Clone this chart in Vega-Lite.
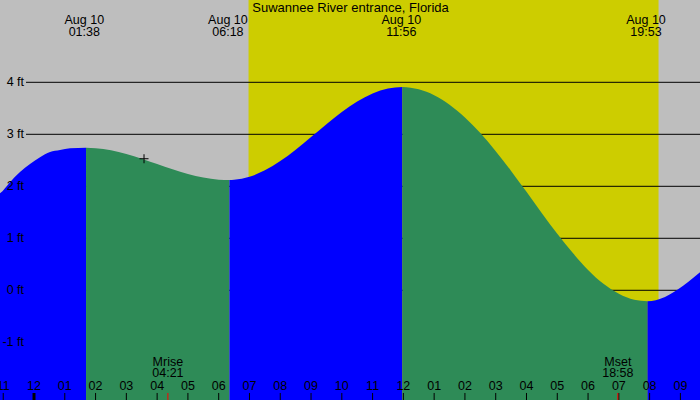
{
  "$schema": "https://vega.github.io/schema/vega-lite/v6.json",
  "width": 700,
  "height": 400,
  "autosize": "none",
  "padding": 0,
  "background": "#bebebe",
  "config": {"view": {"stroke": null}, "font": "Liberation Sans"},
  "datasets": {
    "sun": [{"rise": 6.97, "set": 20.29}],
    "levels": [
      {"ft": -1, "label": "-1 ft"},
      {"ft": 0, "label": "0 ft"},
      {"ft": 1, "label": "1 ft"},
      {"ft": 2, "label": "2 ft"},
      {"ft": 3, "label": "3 ft"},
      {"ft": 4, "label": "4 ft"}
    ],
    "hours": [
      {"h": -1, "label": "11"}, {"h": 0, "label": "12"}, {"h": 1, "label": "01"},
      {"h": 2, "label": "02"}, {"h": 3, "label": "03"}, {"h": 4, "label": "04"},
      {"h": 5, "label": "05"}, {"h": 6, "label": "06"}, {"h": 7, "label": "07"},
      {"h": 8, "label": "08"}, {"h": 9, "label": "09"}, {"h": 10, "label": "10"},
      {"h": 11, "label": "11"}, {"h": 12, "label": "12"}, {"h": 13, "label": "01"},
      {"h": 14, "label": "02"}, {"h": 15, "label": "03"}, {"h": 16, "label": "04"},
      {"h": 17, "label": "05"}, {"h": 18, "label": "06"}, {"h": 19, "label": "07"},
      {"h": 20, "label": "08"}, {"h": 21, "label": "09"}
    ],
    "tide": [
      {"h": -1.2, "ft": 1.83, "phase": "rising", "seg": "a"},
      {"h": -1.105, "ft": 1.865, "phase": "rising", "seg": "a"},
      {"h": -0.78, "ft": 2.08, "phase": "rising", "seg": "a"},
      {"h": -0.455, "ft": 2.275, "phase": "rising", "seg": "a"},
      {"h": -0.13, "ft": 2.43, "phase": "rising", "seg": "a"},
      {"h": 0.195, "ft": 2.56, "phase": "rising", "seg": "a"},
      {"h": 0.52, "ft": 2.66, "phase": "rising", "seg": "a"},
      {"h": 0.845, "ft": 2.70, "phase": "rising", "seg": "a"},
      {"h": 1.17, "ft": 2.73, "phase": "rising", "seg": "a"},
      {"h": 1.69, "ft": 2.74, "phase": "rising", "seg": "a"},
      {"h": 1.69, "ft": 2.74, "phase": "falling", "seg": "b"},
      {"h": 2.0, "ft": 2.732, "phase": "falling", "seg": "b"},
      {"h": 2.5, "ft": 2.692, "phase": "falling", "seg": "b"},
      {"h": 3.0, "ft": 2.622, "phase": "falling", "seg": "b"},
      {"h": 3.5, "ft": 2.531, "phase": "falling", "seg": "b"},
      {"h": 4.0, "ft": 2.428, "phase": "falling", "seg": "b"},
      {"h": 4.5, "ft": 2.326, "phase": "falling", "seg": "b"},
      {"h": 5.0, "ft": 2.235, "phase": "falling", "seg": "b"},
      {"h": 5.5, "ft": 2.167, "phase": "falling", "seg": "b"},
      {"h": 6.0, "ft": 2.128, "phase": "falling", "seg": "b"},
      {"h": 6.35, "ft": 2.12, "phase": "falling", "seg": "b"},
      {"h": 6.35, "ft": 2.12, "phase": "rising", "seg": "c"},
      {"h": 6.5, "ft": 2.125, "phase": "rising", "seg": "c"},
      {"h": 7.0, "ft": 2.184, "phase": "rising", "seg": "c"},
      {"h": 7.5, "ft": 2.308, "phase": "rising", "seg": "c"},
      {"h": 8.0, "ft": 2.486, "phase": "rising", "seg": "c"},
      {"h": 8.5, "ft": 2.705, "phase": "rising", "seg": "c"},
      {"h": 9.0, "ft": 2.947, "phase": "rising", "seg": "c"},
      {"h": 9.5, "ft": 3.195, "phase": "rising", "seg": "c"},
      {"h": 10.0, "ft": 3.43, "phase": "rising", "seg": "c"},
      {"h": 10.5, "ft": 3.632, "phase": "rising", "seg": "c"},
      {"h": 11.0, "ft": 3.785, "phase": "rising", "seg": "c"},
      {"h": 11.5, "ft": 3.88, "phase": "rising", "seg": "c"},
      {"h": 11.97, "ft": 3.91, "phase": "rising", "seg": "c"},
      {"h": 11.97, "ft": 3.91, "phase": "falling", "seg": "d"},
      {"h": 12.5, "ft": 3.866, "phase": "falling", "seg": "d"},
      {"h": 13.0, "ft": 3.752, "phase": "falling", "seg": "d"},
      {"h": 13.5, "ft": 3.57, "phase": "falling", "seg": "d"},
      {"h": 14.0, "ft": 3.325, "phase": "falling", "seg": "d"},
      {"h": 14.5, "ft": 3.025, "phase": "falling", "seg": "d"},
      {"h": 15.0, "ft": 2.676, "phase": "falling", "seg": "d"},
      {"h": 15.5, "ft": 2.296, "phase": "falling", "seg": "d"},
      {"h": 16.0, "ft": 1.893, "phase": "falling", "seg": "d"},
      {"h": 16.5, "ft": 1.484, "phase": "falling", "seg": "d"},
      {"h": 17.0, "ft": 1.087, "phase": "falling", "seg": "d"},
      {"h": 17.5, "ft": 0.72, "phase": "falling", "seg": "d"},
      {"h": 18.0, "ft": 0.392, "phase": "falling", "seg": "d"},
      {"h": 18.5, "ft": 0.124, "phase": "falling", "seg": "d"},
      {"h": 19.0, "ft": -0.067, "phase": "falling", "seg": "d"},
      {"h": 19.5, "ft": -0.181, "phase": "falling", "seg": "d"},
      {"h": 19.93, "ft": -0.21, "phase": "falling", "seg": "d"},
      {"h": 19.93, "ft": -0.21, "phase": "rising", "seg": "e"},
      {"h": 20.2, "ft": -0.19, "phase": "rising", "seg": "e"},
      {"h": 20.5, "ft": -0.13, "phase": "rising", "seg": "e"},
      {"h": 20.8, "ft": -0.03, "phase": "rising", "seg": "e"},
      {"h": 21.1, "ft": 0.09, "phase": "rising", "seg": "e"},
      {"h": 21.4, "ft": 0.23, "phase": "rising", "seg": "e"},
      {"h": 21.7, "ft": 0.38, "phase": "rising", "seg": "e"}
    ],
    "extremes": [
      {"h": 1.633, "label": "Aug 10\n01:38"},
      {"h": 6.3, "label": "Aug 10\n06:18"},
      {"h": 11.933, "label": "Aug 10\n11:56"},
      {"h": 19.883, "label": "Aug 10\n19:53"}
    ],
    "moon": [
      {"h": 4.35, "label": "Mrise\n04:21"},
      {"h": 18.967, "label": "Mset\n18:58"}
    ],
    "now": [{"h": 3.574, "ft": 2.53}],
    "station": [{"h": 10.283, "label": "Suwannee River entrance, Florida"}]
  },
  "layer": [
    {
      "data": {"name": "sun"},
      "mark": {"type": "rect", "color": "#cdcd00"},
      "encoding": {
        "x": {"field": "rise", "type": "quantitative", "scale": {"domain": [-1.105, 21.637], "nice": false, "zero": false}, "axis": null},
        "x2": {"field": "set"}
      }
    },
    {
      "data": {"name": "levels"},
      "transform": [{"filter": "datum.ft >= 0"}],
      "mark": {"type": "rule", "color": "#000", "strokeWidth": 1},
      "encoding": {
        "x": {"datum": -0.26, "type": "quantitative", "scale": {"domain": [-1.105, 21.637], "nice": false, "zero": false}, "axis": null},
        "x2": {"datum": 21.637},
        "y": {"field": "ft", "type": "quantitative", "scale": {"domain": [-2.11, 5.583], "nice": false, "zero": false}, "axis": null}
      }
    },
    {
      "data": {"name": "tide"},
      "mark": {"type": "area", "interpolate": "monotone"},
      "encoding": {
        "x": {"field": "h", "type": "quantitative", "scale": {"domain": [-1.105, 21.637], "nice": false, "zero": false}, "axis": null},
        "y": {"field": "ft", "type": "quantitative", "stack": null, "scale": {"domain": [-2.11, 5.583], "nice": false, "zero": false}, "axis": null},
        "y2": {"datum": -2.11},
        "color": {
          "field": "phase",
          "type": "nominal",
          "scale": {"domain": ["rising", "falling"], "range": ["#0000ff", "#2e8b57"]},
          "legend": null
        },
        "detail": {"field": "seg"}
      }
    },
    {
      "data": {"name": "now"},
      "mark": {"type": "point", "shape": "M-1,0H1M0,-1V1", "size": 81, "filled": false, "stroke": "#000", "strokeWidth": 1, "opacity": 1},
      "encoding": {
        "x": {"field": "h", "type": "quantitative", "scale": {"domain": [-1.105, 21.637], "nice": false, "zero": false}, "axis": null},
        "y": {"field": "ft", "type": "quantitative", "scale": {"domain": [-2.11, 5.583], "nice": false, "zero": false}, "axis": null}
      }
    },
    {
      "data": {"name": "hours"},
      "mark": {"type": "rule", "color": "#000"},
      "encoding": {
        "x": {"field": "h", "type": "quantitative", "scale": {"domain": [-1.105, 21.637], "nice": false, "zero": false}, "axis": null},
        "y": {"datum": -2.11, "type": "quantitative", "scale": {"domain": [-2.11, 5.583], "nice": false, "zero": false}, "axis": null},
        "y2": {"datum": -1.975},
        "strokeWidth": {"condition": {"test": "datum.h == 0", "value": 3}, "value": 1}
      }
    },
    {
      "data": {"name": "moon"},
      "mark": {"type": "rule", "color": "#ff0000", "strokeWidth": 1},
      "encoding": {
        "x": {"field": "h", "type": "quantitative", "scale": {"domain": [-1.105, 21.637], "nice": false, "zero": false}, "axis": null},
        "y": {"datum": -2.11, "type": "quantitative", "scale": {"domain": [-2.11, 5.583], "nice": false, "zero": false}, "axis": null},
        "y2": {"datum": -1.975}
      }
    },
    {
      "data": {"name": "hours"},
      "mark": {"type": "text", "fontSize": 12.5, "baseline": "alphabetic", "align": "center", "color": "#000"},
      "encoding": {
        "x": {"field": "h", "type": "quantitative", "scale": {"domain": [-1.105, 21.637], "nice": false, "zero": false}, "axis": null},
        "y": {"datum": -1.917, "type": "quantitative", "scale": {"domain": [-2.11, 5.583], "nice": false, "zero": false}, "axis": null},
        "text": {"field": "label"}
      }
    },
    {
      "data": {"name": "moon"},
      "mark": {"type": "text", "lineBreak": "\n", "lineHeight": 11.5, "fontSize": 12.5, "baseline": "alphabetic", "align": "center", "color": "#000"},
      "encoding": {
        "x": {"field": "h", "type": "quantitative", "scale": {"domain": [-1.105, 21.637], "nice": false, "zero": false}, "axis": null},
        "y": {"datum": -1.456, "type": "quantitative", "scale": {"domain": [-2.11, 5.583], "nice": false, "zero": false}, "axis": null},
        "text": {"field": "label"}
      }
    },
    {
      "data": {"name": "extremes"},
      "mark": {"type": "text", "lineBreak": "\n", "lineHeight": 11.5, "fontSize": 12.5, "baseline": "alphabetic", "align": "center", "color": "#000"},
      "encoding": {
        "x": {"field": "h", "type": "quantitative", "scale": {"domain": [-1.105, 21.637], "nice": false, "zero": false}, "axis": null},
        "y": {"datum": 5.115, "type": "quantitative", "scale": {"domain": [-2.11, 5.583], "nice": false, "zero": false}, "axis": null},
        "text": {"field": "label"}
      }
    },
    {
      "data": {"name": "levels"},
      "mark": {"type": "text", "fontSize": 12.5, "baseline": "middle", "align": "right", "color": "#000"},
      "encoding": {
        "x": {"datum": -0.325, "type": "quantitative", "scale": {"domain": [-1.105, 21.637], "nice": false, "zero": false}, "axis": null},
        "y": {"field": "ft", "type": "quantitative", "scale": {"domain": [-2.11, 5.583], "nice": false, "zero": false}, "axis": null},
        "text": {"field": "label"}
      }
    },
    {
      "data": {"name": "station"},
      "mark": {"type": "text", "fontSize": 13, "baseline": "alphabetic", "align": "center", "color": "#000"},
      "encoding": {
        "x": {"field": "h", "type": "quantitative", "scale": {"domain": [-1.105, 21.637], "nice": false, "zero": false}, "axis": null},
        "y": {"datum": 5.358, "type": "quantitative", "scale": {"domain": [-2.11, 5.583], "nice": false, "zero": false}, "axis": null},
        "text": {"field": "label"}
      }
    }
  ]
}
